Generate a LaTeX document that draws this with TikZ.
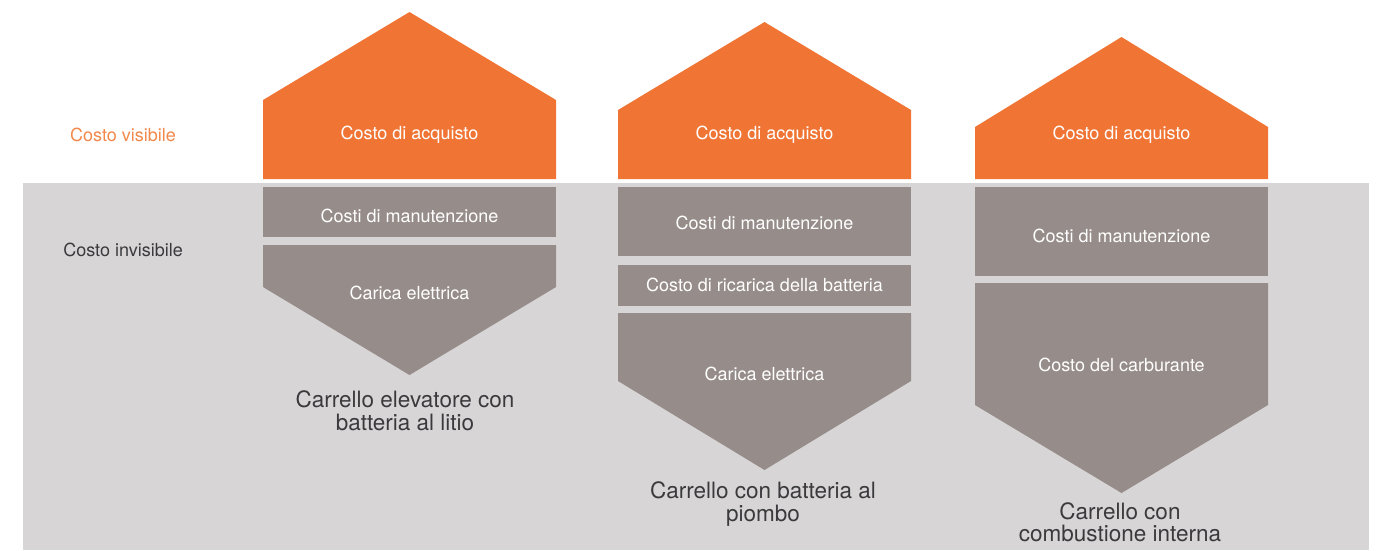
\documentclass[tikz,border=0pt]{standalone}
\usepackage{fontspec}
\setmainfont{TeX Gyre Heros}
\usepackage{xcolor}

\definecolor{roof}{RGB}{240,117,53}
\definecolor{stone}{RGB}{150,141,138}
\definecolor{ground}{RGB}{215,213,214}
\definecolor{ink}{RGB}{58,58,60}
\definecolor{roofink}{RGB}{242,136,74}

\tikzset{
	visible/.style = {fill=roof},
	hidden/.style = {fill=stone},
	boxtext/.style = {text=white, font=\fontsize{18}{20}\selectfont},
	sidetext/.style = {font=\fontsize{18}{20}\selectfont},
	trucktext/.style = {text=ink, align=center, font=\fontsize{22.5}{22.5}\selectfont}
}

\begin{document}
\begin{tikzpicture}[x=1pt, y=-1pt]
			\useasboundingbox (0,0) rectangle (1383,550);
			\fill[ground] (23,183) rectangle (1369,550);
			
			% parte visibile
			\fill[visible] (263,179) -- (263,100) -- (409.5,12) -- (556,100) -- (556,179) -- cycle;
			\fill[visible] (618,179) -- (618,110) -- (764.5,22) -- (911,110) -- (911,179) -- cycle;
			\fill[visible] (975,179) -- (975,127) -- (1121.5,37) -- (1268,127) -- (1268,179) -- cycle;
			
			% parte invisibile
			\fill[hidden] (263,187) rectangle (556,237);
			\fill[hidden] (263,245) -- (556,245) -- (556,287) -- (409.5,375) -- (263,287) -- cycle;
			
			\fill[hidden] (618,187) rectangle (911,256);
			\fill[hidden] (618,265) rectangle (911,306);
			\fill[hidden] (618,313) -- (911,313) -- (911,381) -- (764.5,470) -- (618,381) -- cycle;
			
			\fill[hidden] (975,187) rectangle (1268,276);
			\fill[hidden] (975,283) -- (1268,283) -- (1268,405) -- (1121.5,493) -- (975,405) -- cycle;
			
			\node[sidetext, text=roofink] (vis) at (123,135) {Costo visibile};
			\node[sidetext, text=ink] (invis) at (123,250) {Costo invisibile};
			
			\node[boxtext] (acq1) at (409.5,135) {Costo di acquisto};
			\node[boxtext] (acq2) at (764.5,135) {Costo di acquisto};
			\node[boxtext] (acq3) at (1121.5,135) {Costo di acquisto};
			
			\node[boxtext] (man1) at (409.5,216) {Costi di manutenzione};
			\node[boxtext] (car1) at (409.5,293) {Carica elettrica};
			
			\node[boxtext] (man2) at (764.5,223) {Costi di manutenzione};
			\node[boxtext] (ric2) at (764.5,285) {Costo di ricarica della batteria};
			\node[boxtext] (car2) at (764.5,374) {Carica elettrica};
			
			\node[boxtext] (man3) at (1121.5,236) {Costi di manutenzione};
			\node[boxtext] (carb3) at (1121.5,365) {Costo del carburante};
			
			\node[trucktext] (litio) at (405,411) {Carrello elevatore con\\batteria al litio};
			\node[trucktext] (piombo) at (763,504) {Carrello con batteria al\\piombo};
			\node[trucktext] (diesel) at (1120,522.5) {Carrello con\\combustione interna};
			\end{tikzpicture}
\end{document}
